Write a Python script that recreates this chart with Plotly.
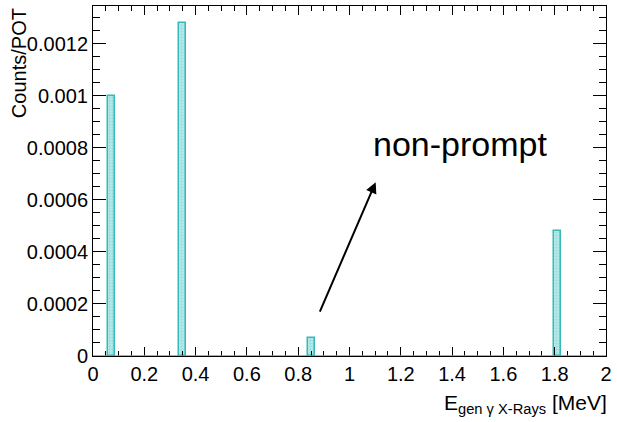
import plotly.graph_objects as go

# Histogram of generated X-ray gamma energies (non-empty bins only)
bin_centers = [0.071, 0.350, 0.852, 1.810]   # MeV
bin_width = 0.026                            # MeV
counts_per_pot = [0.00100, 0.00128, 0.000068, 0.00048]

x_tick_vals = [0, 0.2, 0.4, 0.6, 0.8, 1.0, 1.2, 1.4, 1.6, 1.8, 2.0]
x_tick_text = ["0", "0.2", "0.4", "0.6", "0.8", "1", "1.2", "1.4", "1.6", "1.8", "2"]
y_tick_vals = [0, 0.0002, 0.0004, 0.0006, 0.0008, 0.0010, 0.0012]
y_tick_text = ["0", "0.0002", "0.0004", "0.0006", "0.0008", "0.001", "0.0012"]

x_range = [0, 2]
y_range = [0, 0.001345]

# arrow pointing from the small peak towards the label
arrow_tail = (0.882, 0.000165)
arrow_head = (1.102, 0.000668)
label_pos = (1.43, 0.000816)

TEAL = "#35b9b9"
FONT = "Liberation Sans, Arial, Helvetica, sans-serif"

fig = go.Figure()
fig.add_trace(go.Bar(
    x=bin_centers,
    y=counts_per_pot,
    width=bin_width,
    marker=dict(
        color="#9fdede",
        line=dict(color=TEAL, width=1.5),
        pattern=dict(shape=".", fgcolor="#6ccccc", bgcolor="#b6e8e8",
                     size=3, solidity=0.3),
    ),
    showlegend=False,
))

axis_common = dict(
    showline=True, linecolor="black", linewidth=1, mirror="allticks",
    ticks="inside", tickcolor="black", tickwidth=1,
    showgrid=False, zeroline=False,
    tickfont=dict(family=FONT, size=20, color="black"),
)

fig.update_xaxes(
    range=x_range, tickvals=x_tick_vals, ticktext=x_tick_text, ticklen=9,
    minor=dict(dtick=0.05, tick0=0, ticklen=5, ticks="inside",
               tickcolor="black", tickwidth=1),
    **axis_common,
)
fig.update_yaxes(
    range=y_range, tickvals=y_tick_vals, ticktext=y_tick_text, ticklen=13,
    minor=dict(dtick=0.00005, tick0=0, ticklen=7, ticks="inside",
               tickcolor="black", tickwidth=1),
    **axis_common,
)

# histogram outline along the zero line
fig.add_shape(type="line", xref="paper", yref="y", x0=0, x1=1, y0=0, y1=0,
              line=dict(color=TEAL, width=1.5))

fig.add_annotation(
    x=arrow_head[0], y=arrow_head[1], ax=arrow_tail[0], ay=arrow_tail[1],
    xref="x", yref="y", axref="x", ayref="y",
    showarrow=True, arrowhead=2, arrowsize=1.1, arrowwidth=2, arrowcolor="black",
    text="",
)
fig.add_annotation(
    x=label_pos[0], y=label_pos[1], xref="x", yref="y",
    text="non-prompt", showarrow=False,
    font=dict(family=FONT, size=34, color="black"),
)

# axis titles, ROOT style: right-aligned on x, top-aligned on y
fig.add_annotation(
    x=1.0, y=-0.137, xref="paper", yref="paper", xanchor="right", yanchor="middle",
    xshift=3,
    text="E<sub>gen γ X-Rays</sub> [MeV]", showarrow=False,
    font=dict(family=FONT, size=21, color="black"),
)
fig.add_annotation(
    x=-0.144, y=1.0, xref="paper", yref="paper", xanchor="center", yanchor="top",
    text="Counts/POT", textangle=-90, showarrow=False,
    font=dict(family=FONT, size=20, color="black"),
)

fig.update_layout(
    width=617, height=422,
    margin=dict(l=93, r=9, t=5, b=66),
    paper_bgcolor="white", plot_bgcolor="white",
    bargap=0,
)

fig.write_html("out.html")
